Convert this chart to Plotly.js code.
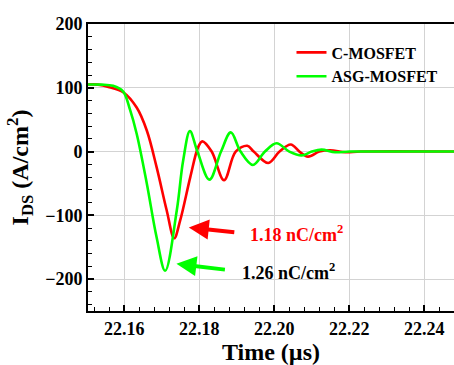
<!DOCTYPE html>
<html>
<head>
<meta charset="utf-8">
<script src="https://cdn.plot.ly/plotly-3.0.1.min.js"></script>
<style>html,body{margin:0;padding:0;background:#fff;}#chart{width:454px;height:365px;}</style>
</head>
<body>
<div id="chart"></div>
<script>
// Time (µs) and I_DS (A/cm²)
const cTime = [22.1500,22.1530,22.1560,22.1597,22.1633,22.1660,22.1686,22.1713,22.1733,22.1749,22.1776,22.1797,22.1808,22.1833,22.1866,22.1897,22.1928,22.1945,22.1984,22.2014,22.2044,22.2067,22.2090,22.2120,22.2149,22.2190,22.2230,22.2480];
const cIds  = [105,105,101,93,69,33,-24,-92,-136,-108,-40,7,16,0,-45,0,9,0,-18,0,11,0,-8,0,2,-1,0,0];

const asgTime = [22.1500,22.1540,22.1570,22.1597,22.1615,22.1633,22.1660,22.1686,22.1709,22.1740,22.1757,22.1775,22.1795,22.1827,22.1858,22.1884,22.1910,22.1943,22.1975,22.2006,22.2040,22.2073,22.2100,22.2126,22.2162,22.2200,22.2300,22.2480];
const asgIds  = [105,105,103,94,66,28,-50,-134,-187,-92,-14,32,0,-44,0,30,0,-21,0,13,0,-6,0,3,-1,0,0,0];

const seriesNames = ['C-MOSFET','ASG-MOSFET'];
const chargeLabels = ['1.18 nC/cm<sup>2</sup>','1.26 nC/cm<sup>2</sup>'];
const arrowTips = {t:[22.1772,22.1739], v:[-119,-176]};
const labelPos = {t:[22.1930,22.1908], v:[-128,-188]};

const serif = 'Liberation Serif';

const traces = [
  {x:cTime, y:cIds, name:seriesNames[0], legendgroup:'a', mode:'lines',
   line:{color:'#ff0000', width:2.6, shape:'spline', smoothing:1}},
  {x:asgTime, y:asgIds, name:seriesNames[1], legendgroup:'b', mode:'lines',
   line:{color:'#00ff00', width:2.6, shape:'spline', smoothing:1}}
];

const layout = {
  width:454, height:365,
  margin:{l:88, r:0, t:24, b:54},
  paper_bgcolor:'#fff', plot_bgcolor:'#fff',
  font:{family:serif, color:'#000', weight:'bold'},
  showlegend:true,
  legend:{x:0.556, y:0.96, xanchor:'left', yanchor:'top', bgcolor:'rgba(0,0,0,0)',
          font:{family:serif, size:16, color:'#000', weight:'bold'},
          traceorder:'grouped', tracegroupgap:0},
  xaxis:{range:[22.15032,22.24792], tick0:22.16, dtick:0.02, tickformat:'.2f',
         ticks:'inside', ticklen:6, tickwidth:2, tickcolor:'#000',
         minor:{dtick:0.004, ticks:'inside', ticklen:4, tickwidth:1, tickcolor:'#000', showgrid:false},
         showline:true, linecolor:'#000', linewidth:2, mirror:true,
         showgrid:true, gridcolor:'#d3d3d3', gridwidth:1, zeroline:false,
         tickfont:{family:serif, size:18, color:'#000', weight:'bold'},
         title:{text:'Time (µs)', font:{family:serif, size:24, color:'#000', weight:'bold'}, standoff:4}},
  yaxis:{range:[-250,200], tick0:0, dtick:100,
         ticks:'inside', ticklen:6, tickwidth:2, tickcolor:'#000',
         minor:{dtick:20, ticks:'inside', ticklen:4, tickwidth:1, tickcolor:'#000', showgrid:false},
         showline:true, linecolor:'#000', linewidth:2, mirror:false,
         showgrid:true, gridcolor:'#d3d3d3', gridwidth:1, zeroline:false,
         tickfont:{family:serif, size:18, color:'#000', weight:'bold'},
         title:{text:'I<sub>DS</sub> (A/cm<sup>2</sup>)', font:{family:serif, size:24, color:'#000', weight:'bold'}, standoff:10}},
  annotations:[
    {x:arrowTips.t[0], y:arrowTips.v[0], xref:'x', yref:'y', text:'', showarrow:true,
     ax:47, ay:5, axref:'pixel', ayref:'pixel', arrowhead:2, arrowsize:1, arrowwidth:4, arrowcolor:'#ff0000'},
    {x:arrowTips.t[1], y:arrowTips.v[1], xref:'x', yref:'y', text:'', showarrow:true,
     ax:50, ay:6, axref:'pixel', ayref:'pixel', arrowhead:2, arrowsize:1, arrowwidth:4, arrowcolor:'#00ff00'},
    {x:labelPos.t[0], y:labelPos.v[0], xref:'x', yref:'y', xanchor:'left', yanchor:'middle', text:chargeLabels[0], showarrow:false,
     font:{family:serif, size:18, color:'#ff0000', weight:'bold'}},
    {x:labelPos.t[1], y:labelPos.v[1], xref:'x', yref:'y', xanchor:'left', yanchor:'middle', text:chargeLabels[1], showarrow:false,
     font:{family:serif, size:18, color:'#000', weight:'bold'}}
  ]
};

Plotly.newPlot('chart', traces, layout, {displayModeBar:false, staticPlot:true});
</script>
</body>
</html>
